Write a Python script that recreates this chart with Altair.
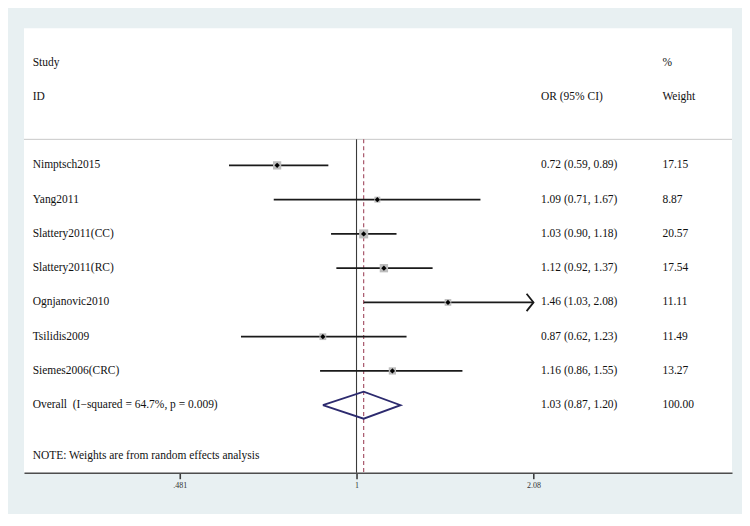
import altair as alt
import pandas as pd

# ---------------- data ----------------
studies = ["Nimptsch2015", "Yang2011", "Slattery2011(CC)", "Slattery2011(RC)",
           "Ognjanovic2010", "Tsilidis2009", "Siemes2006(CRC)"]
or_est = [0.72, 1.09, 1.03, 1.12, 1.46, 0.87, 1.16]
ci_lo = [0.59, 0.71, 0.90, 0.92, 1.03, 0.62, 0.86]
ci_hi = [0.89, 1.67, 1.18, 1.37, 2.08, 1.23, 1.55]
weights = [17.15, 8.87, 20.57, 17.54, 11.11, 11.49, 13.27]

overall_label = "Overall\u00a0\u00a0(I\u2212squared = 64.7%, p = 0.009)"
overall_est, overall_lo, overall_hi = 1.03, 0.87, 1.20
overall_weight = 100.00
note_text = "NOTE: Weights are from random effects analysis"

header_left = ["Study", "ID"]
header_or = "OR (95% CI)"
header_w = ["%", "Weight"]

tick_values = [0.481, 1, 2.08]
tick_labels = [".481", "1", "2.08"]
x_plot_max = 2.08          # CI clipped here (arrow drawn)

# ---------------- layout constants ----------------
W, H = 709, 445
X_DOMAIN = [0.2526, 4.729]
Y_DOMAIN = [0, 12.97]
SEP_ROW = 3.24
NOTE_ROW = 12.47
FIRST_ROW = 4
COL_LABEL, COL_OR, COL_W = 8.7, 517.7, 639.3
FONT = "Liberation Serif"
FS = 11.5

xs = alt.Scale(type="log", domain=X_DOMAIN, nice=False)
ys = alt.Scale(domain=Y_DOMAIN, reverse=True, nice=False, zero=False)

rows = [FIRST_ROW + i for i in range(len(studies))]
overall_row = FIRST_ROW + len(studies)

df = pd.DataFrame({
    "study": studies, "est": or_est, "lo": ci_lo, "hi": ci_hi,
    "w": weights, "row": rows,
})
df["hi_clip"] = df["hi"].clip(upper=x_plot_max)
df["arrow"] = df["hi"] >= x_plot_max

# text tables
left_txt = pd.DataFrame({
    "t": header_left + studies + [overall_label, note_text],
    "row": [1, 2] + rows + [overall_row, NOTE_ROW],
})
or_txt = pd.DataFrame({
    "t": [header_or] + [f"{e:.2f} ({l:.2f}, {h:.2f})" for e, l, h in zip(or_est, ci_lo, ci_hi)]
         + [f"{overall_est:.2f} ({overall_lo:.2f}, {overall_hi:.2f})"],
    "row": [2] + rows + [overall_row],
})
w_txt = pd.DataFrame({
    "t": header_w + [f"{w:.2f}" for w in weights] + [f"{overall_weight:.2f}"],
    "row": [1, 2] + rows + [overall_row],
})

# overall diamond polygon
dh = 0.394
diamond = pd.DataFrame({
    "x": [overall_lo, overall_est, overall_hi, overall_est, overall_lo],
    "row": [overall_row, overall_row - dh, overall_row, overall_row + dh, overall_row],
    "o": [0, 1, 2, 3, 4],
})

label_expr = " : ".join(
    [f"datum.value == {v} ? '{l}'" for v, l in zip(tick_values, tick_labels)]
) + " : ''"

x_axis = alt.Axis(values=tick_values, labelExpr=label_expr, grid=False, title=None)


def X(field):
    return alt.X(f"{field}:Q", scale=xs, axis=x_axis)


def Y(field="row"):
    return alt.Y(f"{field}:Q", scale=ys, axis=None)


# ---------------- layers ----------------
def text_layer(data, xpix):
    return alt.Chart(data).mark_text(
        align="left", baseline="middle", font=FONT, fontSize=FS, color="#111111"
    ).encode(x=alt.value(xpix), y=Y(), text="t:N")


sep = alt.Chart(pd.DataFrame({"row": [SEP_ROW]})).mark_rule(
    color="#c8c8c8", strokeWidth=1
).encode(x=alt.value(0), x2=alt.value(W), y=Y())

vlines = pd.DataFrame({"x": [1.0], "r1": [SEP_ROW], "r2": [Y_DOMAIN[1]]})
vsolid = alt.Chart(vlines).mark_rule(color="#3a3a3a", strokeWidth=1.1).encode(
    x=X("x"), y=Y("r1"), y2="r2:Q")

dline = pd.DataFrame({"x": [overall_est], "r1": [SEP_ROW], "r2": [Y_DOMAIN[1]]})
vdash = alt.Chart(dline).mark_rule(color="#a8566a", strokeWidth=1.2, strokeDash=[4, 3]).encode(
    x=X("x"), y=Y("r1"), y2="r2:Q")

ci = alt.Chart(df).mark_rule(color="#1a1a1a", strokeWidth=1.8).encode(
    x=X("lo"), x2="hi_clip:Q", y=Y())

boxes = alt.Chart(df).mark_square(color="#bdbdbd", opacity=1).encode(
    x=X("est"), y=Y(),
    size=alt.Size("w:Q", scale=alt.Scale(type="linear", domain=[0, 100], range=[0, 400]), legend=None))

dots = alt.Chart(df).mark_point(shape="diamond", filled=True, color="#000000", size=28, opacity=1).encode(
    x=X("est"), y=Y())

arrows = alt.Chart(df).transform_filter("datum.arrow").mark_point(
    shape="M -0.8 -1 L 0 0 L -0.8 1", filled=False, color="#1a1a1a",
    strokeWidth=1.8, size=300, opacity=1
).encode(x=X("hi_clip"), y=Y())

dia = alt.Chart(diamond).mark_line(color="#2c2a6e", strokeWidth=1.8).encode(
    x=X("x"), y=Y(), order="o:Q")

chart = alt.layer(
    sep, vsolid, vdash, ci, boxes, dots, arrows, dia,
    text_layer(left_txt, COL_LABEL), text_layer(or_txt, COL_OR), text_layer(w_txt, COL_W),
).properties(
    width=W, height=H,
    padding={"left": 15, "top": 20, "right": 9, "bottom": 24},
    background="#e8f0f2",
).configure_view(
    fill="white", stroke=None
).configure_axis(
    domainColor="#4d4d4d", domainWidth=1.6, tickColor="#3d3d3d", tickWidth=1.6,
    tickSize=6, labelFont=FONT, labelFontSize=8, labelColor="#333333", labelPadding=3,
)

chart.save("out.html", embed_options={"renderer": "svg", "actions": False})
